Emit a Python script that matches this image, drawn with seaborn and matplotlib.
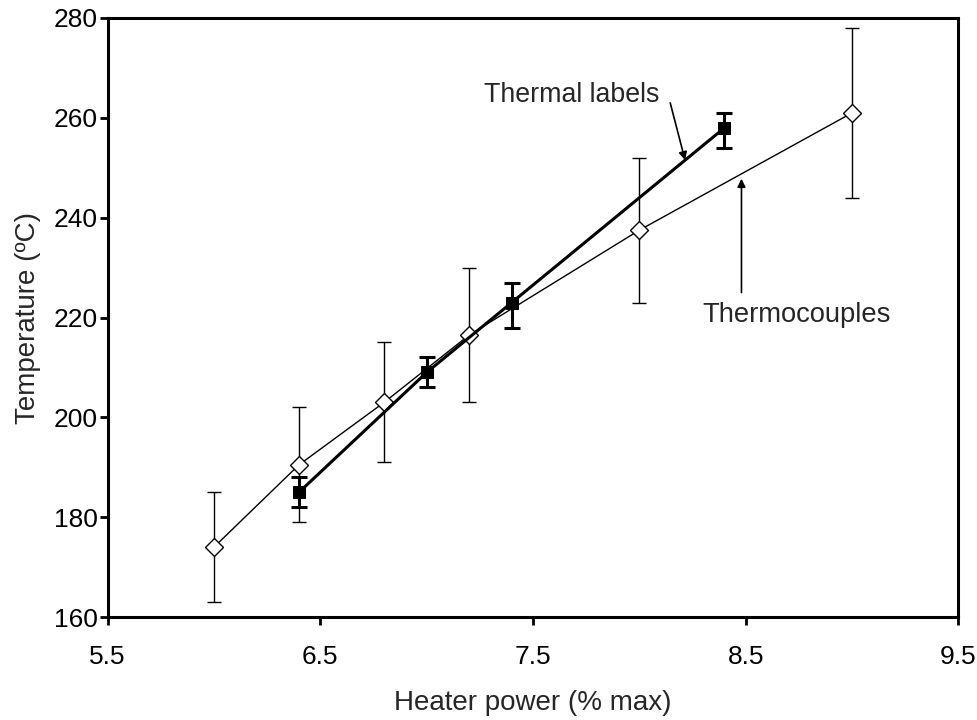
import matplotlib
matplotlib.use("Agg")
import matplotlib.pyplot as plt
import seaborn as sns
import numpy as np
import pandas as pd

# Data
tc_power = [6.0, 6.4, 6.8, 7.2, 8.0, 9.0]
tc_temp = [174, 190.5, 203, 216.5, 237.5, 261]
tc_lower = [163, 179, 191, 203, 223, 244]
tc_upper = [185, 202, 215, 230, 252, 278]

tl_power = [6.4, 7.0, 7.4, 8.4]
tl_temp = [185, 209, 223, 258]
tl_lower = [182, 206, 218, 254]
tl_upper = [188, 212, 227, 261]

x_ticks = [5.5, 6.5, 7.5, 8.5, 9.5]
y_ticks = [160, 180, 200, 220, 240, 260, 280]

sns.set_style("ticks")
plt.rcParams['font.family'] = ['Liberation Sans', 'DejaVu Sans']

fig = plt.figure(figsize=(9.78, 7.2), dpi=100)
ax = fig.add_axes([0.110, 0.143, 0.870, 0.832])

tc_df = pd.DataFrame({"power": tc_power, "temp": tc_temp})
tl_df = pd.DataFrame({"power": tl_power, "temp": tl_temp})

# error bars
tc_err = [np.array(tc_temp) - np.array(tc_lower), np.array(tc_upper) - np.array(tc_temp)]
tl_err = [np.array(tl_temp) - np.array(tl_lower), np.array(tl_upper) - np.array(tl_temp)]
ax.errorbar(tc_power, tc_temp, yerr=tc_err, fmt='none', ecolor='black',
            elinewidth=1.0, capsize=5, capthick=1.0, zorder=2)
ax.errorbar(tl_power, tl_temp, yerr=tl_err, fmt='none', ecolor='black',
            elinewidth=2.2, capsize=6, capthick=2.2, zorder=4)

sns.lineplot(data=tc_df, x="power", y="temp", ax=ax, color='black', linewidth=1.0,
             marker='D', markersize=9.5, markerfacecolor='white', markeredgecolor='black',
             markeredgewidth=1.0, zorder=3)
sns.lineplot(data=tl_df, x="power", y="temp", ax=ax, color='black', linewidth=2.2,
             marker='s', markersize=9, markerfacecolor='black', markeredgecolor='black',
             zorder=5)

ax.set_xlim(5.5, 9.5)
ax.set_ylim(160, 280)
ax.set_xticks(x_ticks)
ax.set_yticks(y_ticks)
ax.set_xticklabels([str(t) for t in x_ticks])
ax.set_xlabel("Heater power (% max)", fontsize=20, labelpad=15)
ax.set_ylabel("Temperature (\u00baC)", fontsize=20, labelpad=9)
ax.tick_params(axis='both', labelsize=19, direction='out', length=6, width=2, colors='black')
ax.tick_params(axis='x', pad=14)
ax.tick_params(axis='y', pad=1)
for s in ax.spines.values():
    s.set_visible(True)
    s.set_linewidth(2.2)
    s.set_color('black')

ax.text(7.683, 264.6, "Thermal labels", fontsize=19.3, ha='center', va='center')
ax.annotate("", xy=(8.215, 251.5), xytext=(8.145, 263.0),
            arrowprops=dict(arrowstyle='-|>', color='black', lw=1.2,
                            mutation_scale=12, shrinkA=0, shrinkB=0))
ax.annotate("", xy=(8.48, 247.8), xytext=(8.48, 225.0),
            arrowprops=dict(arrowstyle='-|>', color='black', lw=1.2,
                            mutation_scale=12, shrinkA=0, shrinkB=0))
ax.text(8.738, 220.5, "Thermocouples", fontsize=19.7, ha='center', va='center')

fig.savefig("out.png", dpi=100)
